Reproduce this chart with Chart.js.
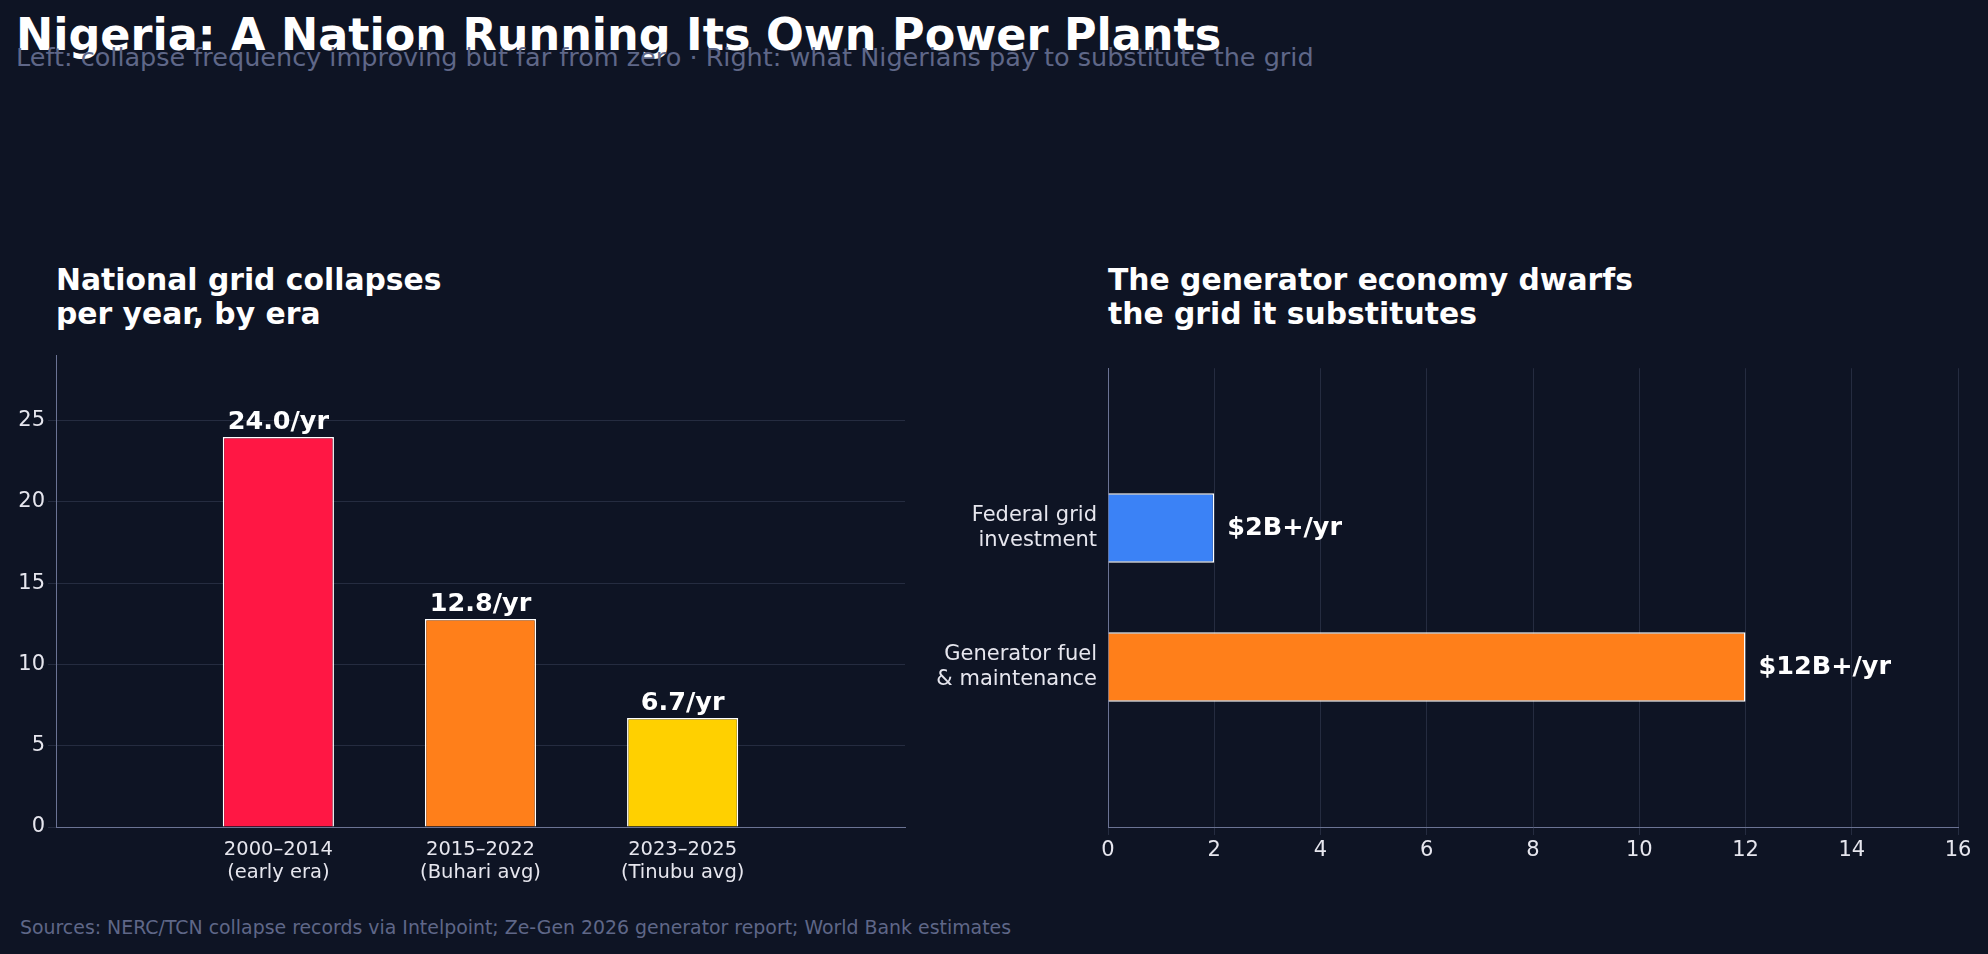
<!DOCTYPE html>
<html><head><meta charset="utf-8">
<script src="https://cdn.jsdelivr.net/npm/chart.js@4"></script>
<style>
html,body{margin:0;padding:0;background:#0e1424;width:1988px;height:954px;overflow:hidden;font-family:"DejaVu Sans",sans-serif;}
.t{position:absolute;color:#fff;white-space:nowrap;}
</style></head><body>
<div class="t" style="left:16px;top:9px;font-size:44.5px;font-weight:bold;">Nigeria: A Nation Running Its Own Power Plants</div>
<div class="t" style="left:16px;top:42px;font-size:25.5px;color:#5f6788;">Left: collapse frequency improving but far from zero · Right: what Nigerians pay to substitute the grid</div>
<div class="t" style="left:56px;top:263px;font-size:29.8px;font-weight:bold;line-height:34px;">National grid collapses<br>per year, by era</div>
<div class="t" style="left:1108px;top:263px;font-size:29.8px;font-weight:bold;line-height:34px;">The generator economy dwarfs<br>the grid it substitutes</div>
<div class="t" style="left:20px;top:916px;font-size:18.9px;color:#5f6788;">Sources: NERC/TCN collapse records via Intelpoint; Ze-Gen 2026 generator report; World Bank estimates</div>
<div style="position:absolute;left:0;top:340px;width:920px;height:560px;"><canvas id="c1"></canvas></div>
<div style="position:absolute;left:930px;top:340px;width:1058px;height:560px;"><canvas id="c2"></canvas></div>
<script>
const eraLabels=[["2000–2014","(early era)"],["2015–2022","(Buhari avg)"],["2023–2025","(Tinubu avg)"]];
const collapses=[24.0,12.8,6.7];
const collapseText=["24.0/yr","12.8/yr","6.7/yr"];
const eraColors=["#ff1744","#ff7f1a","#ffd000"];
const spendLabels=[["Federal grid","investment"],["Generator fuel","& maintenance"]];
const spend=[2,12];
const spendText=["$2B+/yr","$12B+/yr"];
const spendColors=["#3b82f6","#ff7f1a"];

const tickFont={family:"DejaVu Sans",size:21};
const tickColor="#e6e6ee", gridColor="#252c40", axisColor="#6b7394";
const labelPlugin=(texts,horiz)=>({id:'lbl',afterDatasetsDraw(ch){
  const ctx=ch.ctx; const m=ch.getDatasetMeta(0);
  ctx.save();ctx.fillStyle="#fff";ctx.font="bold 25.5px DejaVu Sans";
  m.data.forEach((b,i)=>{
    if(horiz){ctx.textAlign="left";ctx.textBaseline="middle";ctx.fillText(texts[i],b.x+13,b.y);}
    else{ctx.textAlign="center";ctx.textBaseline="bottom";ctx.fillText(texts[i],b.x,b.y-2);}
  });ctx.restore();}});
const idxTicks=(n)=>function(s){s.ticks=Array.from({length:n},(_,i)=>({value:i}));};
Chart.defaults.animation=false;
new Chart(document.getElementById('c1'),{type:'bar',
 data:{datasets:[{data:collapses.map((v,i)=>({x:i,y:v})),backgroundColor:eraColors,borderColor:"#fff",borderWidth:1.5,barPercentage:0.55,categoryPercentage:1}]},
 options:{responsive:true,maintainAspectRatio:false,layout:{padding:{top:3,right:15,left:0,bottom:0}},
  plugins:{legend:{display:false},tooltip:{enabled:false}},
  scales:{
   x:{type:'linear',min:-0.4,max:2.4,afterBuildTicks:idxTicks(3),grid:{display:false},border:{color:axisColor},ticks:{color:tickColor,font:{family:"DejaVu Sans",size:19.5},callback:v=>eraLabels[v]},afterFit(s){s.height=73;}},
   y:{min:0,max:29,afterBuildTicks(s){s.ticks=[0,5,10,15,20,25].map(v=>({value:v}));},ticks:{color:tickColor,font:tickFont},grid:{color:gridColor},border:{color:axisColor},afterFit(s){s.width=56;}}
  }},plugins:[labelPlugin(collapseText,false)]});
new Chart(document.getElementById('c2'),{type:'bar',
 data:{datasets:[{data:spend.map((v,i)=>({x:v,y:i})),backgroundColor:spendColors,borderColor:"#fff",borderWidth:1.5,barPercentage:0.5,categoryPercentage:1}]},
 options:{indexAxis:'y',responsive:true,maintainAspectRatio:false,layout:{padding:{top:3,right:30,left:0,bottom:0}},
  plugins:{legend:{display:false},tooltip:{enabled:false}},
  scales:{
   x:{type:'linear',min:0,max:16,ticks:{stepSize:2,color:tickColor,font:tickFont},grid:{color:gridColor},border:{color:axisColor},afterFit(s){s.height=73;}},
   y:{type:'linear',min:-0.325,max:1.325,reverse:true,afterBuildTicks:idxTicks(2),grid:{display:false},border:{color:axisColor},ticks:{color:tickColor,font:tickFont,callback:v=>spendLabels[v]},afterFit(s){s.width=178;}}
  }},plugins:[labelPlugin(spendText,true)]});
</script></body></html>
